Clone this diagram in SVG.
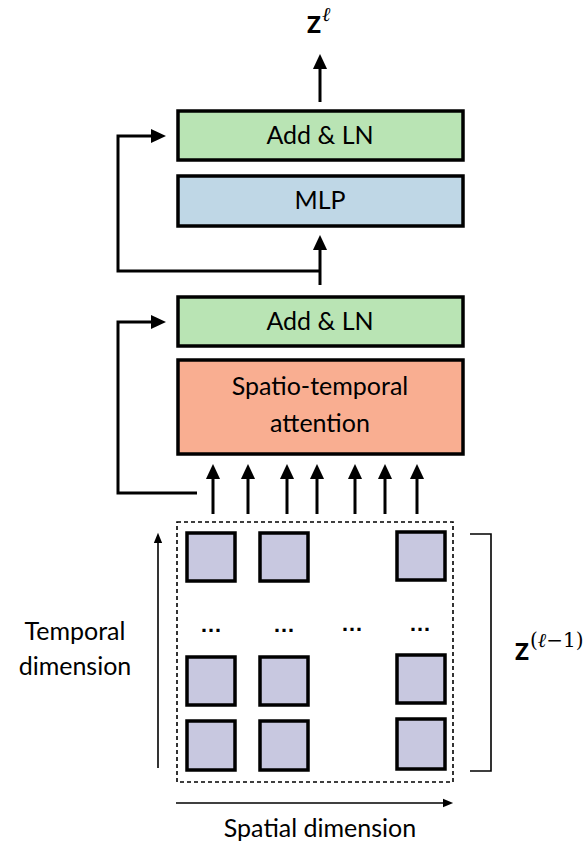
<svg xmlns="http://www.w3.org/2000/svg" width="587" height="845" viewBox="0 0 587 845">
<defs>
<marker id="ah" markerWidth="16" markerHeight="16" refX="0" refY="0" viewBox="-1 -8 17 16" markerUnits="userSpaceOnUse" orient="auto">
<path d="M0,-7.5 L16,0 L0,7.5 Z" fill="#000"/>
</marker>
<marker id="ahs" markerWidth="12" markerHeight="10" refX="0" refY="0" viewBox="-1 -5 13 10" markerUnits="userSpaceOnUse" orient="auto">
<path d="M0,-4.5 L11,0 L0,4.5 Z" fill="#000"/>
</marker>
<style>
.box{stroke:#000;stroke-width:3.5}
.lbl{font-family:Lato,"Open Sans","Liberation Sans",sans-serif;font-size:25px;fill:#000;text-anchor:middle}
.cell{fill:#c8c8e0;stroke:#000;stroke-width:3.5}
.conn{fill:none;stroke:#000;stroke-width:3}
.thin{fill:none;stroke:#000;stroke-width:1.6}
.zb{font-family:"Open Sans","Liberation Sans",sans-serif;font-weight:bold;font-size:24px}
.sup{font-family:"DejaVu Serif","Liberation Serif",serif;font-size:20px}
.dots{font-family:"Liberation Sans",sans-serif;font-weight:bold;font-size:22px;text-anchor:middle}
</style>
</defs>

<g id="add-ln-top">
<rect class="box" x="178" y="111" width="285" height="49" fill="#b9e4b4"/>
<text class="lbl" x="320" y="144">Add &amp; LN</text>
</g>
<g id="mlp">
<rect class="box" x="178" y="176" width="285" height="50" fill="#bfd7e6"/>
<text class="lbl" x="320" y="209">MLP</text>
</g>
<g id="add-ln-bottom">
<rect class="box" x="178" y="297" width="285" height="49" fill="#b9e4b4"/>
<text class="lbl" x="320" y="330">Add &amp; LN</text>
</g>
<g id="attention">
<rect class="box" x="178" y="360" width="285" height="94" fill="#f9ae91"/>
<text class="lbl" x="320" y="395">Spatio-temporal</text>
<text class="lbl" x="320" y="432">attention</text>
</g>

<g id="output-label">
<text class="zb" x="307" y="33">Z</text>
<text class="sup" x="322" y="21" font-style="italic" font-size="22">ℓ</text>
</g>

<g id="tokens">
<rect class="thin" x="177" y="522" width="276" height="260" stroke-dasharray="4,3"/>
<rect class="cell" x="187" y="533" width="48" height="48"/>
<rect class="cell" x="260" y="533" width="48" height="48"/>
<rect class="cell" x="397" y="532" width="48" height="48"/>
<rect class="cell" x="187" y="657" width="48" height="48"/>
<rect class="cell" x="260" y="657" width="48" height="48"/>
<rect class="cell" x="397" y="655" width="48" height="48"/>
<rect class="cell" x="187" y="721" width="48" height="49"/>
<rect class="cell" x="260" y="721" width="48" height="49"/>
<rect class="cell" x="397" y="719" width="48" height="50"/>
<text class="dots" x="211" y="632">…</text>
<text class="dots" x="284" y="632">…</text>
<text class="dots" x="352" y="631">…</text>
<text class="dots" x="420" y="631">…</text>
</g>

<g id="input-label">
<path class="thin" d="M470,534 H491 V771 H470"/>
<text class="zb" x="515" y="660">Z</text>
<text class="sup" x="530" y="647"><tspan>(</tspan><tspan font-style="italic">ℓ</tspan><tspan>−1)</tspan></text>
</g>

<g id="axis-labels">
<text class="lbl" x="75" y="640">Temporal</text>
<text class="lbl" x="75" y="675">dimension</text>
<text class="lbl" x="320" y="837">Spatial dimension</text>
</g>

<g id="connectors">
<line class="conn" x1="320" y1="102" x2="320" y2="69" marker-end="url(#ah)"/>
<line class="conn" x1="320" y1="285" x2="320" y2="250" marker-end="url(#ah)"/>
<path class="conn" d="M320,271 H118 V136 H151" marker-end="url(#ah)"/>
<path class="conn" d="M197,493 H118 V322 H151" marker-end="url(#ah)"/>
<line class="conn" x1="213" y1="514" x2="213" y2="479" marker-end="url(#ah)"/>
<line class="conn" x1="248" y1="514" x2="248" y2="479" marker-end="url(#ah)"/>
<line class="conn" x1="287" y1="514" x2="287" y2="479" marker-end="url(#ah)"/>
<line class="conn" x1="317" y1="514" x2="317" y2="479" marker-end="url(#ah)"/>
<line class="conn" x1="355" y1="514" x2="355" y2="479" marker-end="url(#ah)"/>
<line class="conn" x1="385" y1="514" x2="385" y2="479" marker-end="url(#ah)"/>
<line class="conn" x1="417" y1="514" x2="417" y2="479" marker-end="url(#ah)"/>
<line class="thin" x1="158" y1="768" x2="158" y2="543" marker-end="url(#ahs)"/>
<line class="thin" x1="176" y1="803" x2="443" y2="803" marker-end="url(#ahs)"/>
</g>
</svg>
